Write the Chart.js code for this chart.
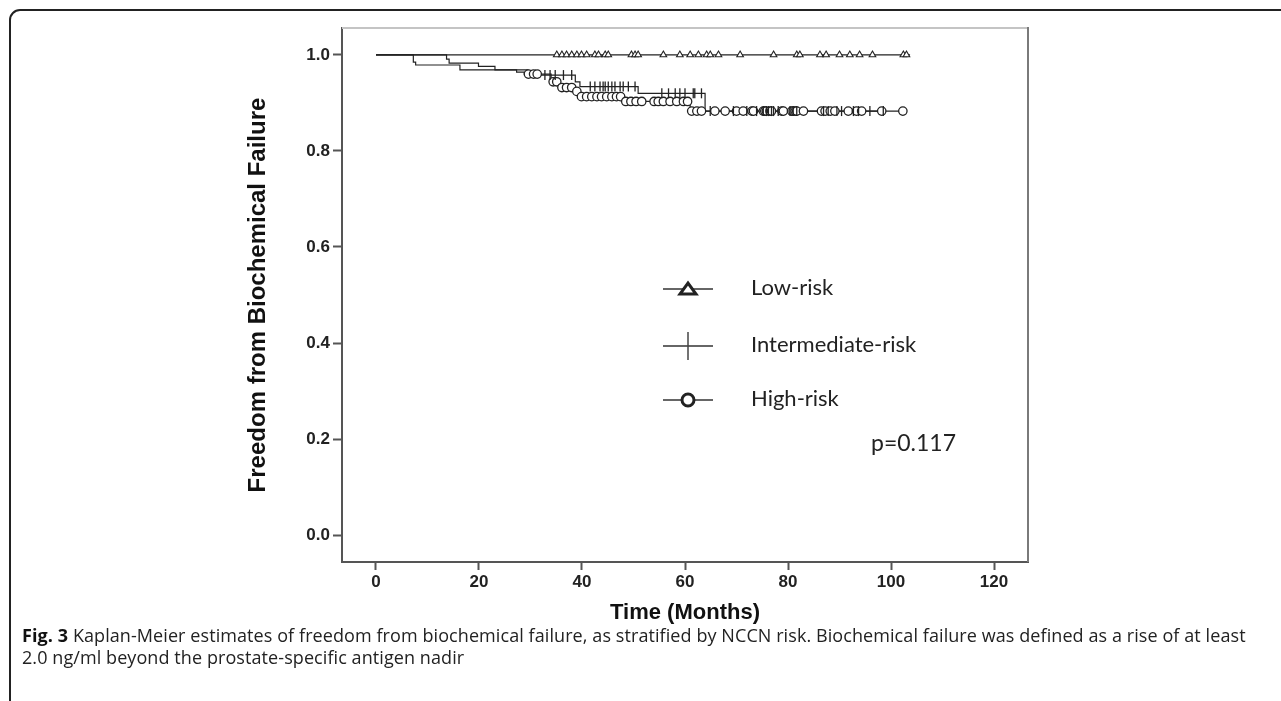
<!DOCTYPE html>
<html>
<head>
<meta charset="utf-8">
<script src="https://cdn.jsdelivr.net/npm/chart.js@4.4.0/dist/chart.umd.min.js"></script>
<style>
html, body { margin: 0; padding: 0; background: #fff; }
body { width: 1281px; height: 701px; position: relative; overflow: hidden; }
.frame { position: absolute; left: 9px; top: 9px; width: 1300px; height: 720px; border: 2px solid #222; border-radius: 11px; }
.chartbox { position: absolute; left: 0; top: 0; width: 1281px; height: 626px; }
.caption { position: absolute; left: 22px; top: 624px; white-space: nowrap; font-family: "Open Sans", sans-serif; font-size: 18px; letter-spacing: 0.08px; line-height: 22px; color: #222; }
.caption b { color: #111; }
</style>
</head>
<body>
<div class="frame"></div>
<div class="chartbox"><canvas id="kmchart" width="1281" height="626"></canvas></div>
<div class="caption"><b>Fig. 3</b> Kaplan-Meier estimates of freedom from biochemical failure, as stratified by NCCN risk. Biochemical failure was defined as a rise of at least<br>2.0 ng/ml beyond the prostate-specific antigen nadir</div>
<script>
// axis ticks
const xTicks = [0, 20, 40, 60, 80, 100, 120];
const yTicks = [0, 0.2, 0.4, 0.6, 0.8, 1.0];

// KM steps: time of each drop and survival after it
const lowTime = [0, 103.7];
const lowSurv = [1, 1];
const lowCensor = [35.1, 36.1, 37.0, 38.0, 39.0, 39.9, 40.9, 42.5, 43.2, 44.5, 45.1, 49.6, 50.3, 50.9,
  55.8, 59.0, 61.0, 62.6, 64.2, 64.9, 66.5, 70.7, 77.2, 81.7, 82.3, 86.2, 87.4, 90.0, 92.0, 93.9, 96.4, 102.4, 103.0];

const intTime = [0, 13.7, 14.2, 19.9, 23.1, 29.5, 38.7, 39.6, 50.9, 63.9, 98.5];
const intSurv = [1, 0.991, 0.983, 0.976, 0.969, 0.958, 0.944, 0.934, 0.920, 0.883, 0.883];
const intCensor = [32.8, 33.8, 34.8, 36.4, 38.0,
  41.6, 42.5, 43.5, 44.1, 44.5, 45.1, 45.8, 46.4, 47.4, 48.0, 49.0, 50.3,
  55.5, 56.8, 58.1, 59.0, 60.0, 61.6, 61.9, 63.2,
  64.9, 69.4, 72.0, 73.9, 75.2, 75.8, 76.2, 76.8, 77.2, 78.1, 80.4, 81.0, 81.7, 86.9, 87.8, 89.5, 90.4, 92.7, 93.7, 95.9, 98.5];

const highTime = [0, 7.25, 7.7, 16.3, 27.3, 28.8, 34.0, 35.5, 38.6, 39.5, 48.0, 61.0, 102.3];
const highSurv = [1, 0.985, 0.979, 0.969, 0.964, 0.960, 0.944, 0.932, 0.924, 0.913, 0.903, 0.883, 0.883];
const highCensor = [29.6, 30.6, 31.3, 34.4, 35.1, 36.1, 37.0, 38.0, 39.0,
  39.9, 40.9, 41.9, 42.9, 43.8, 44.8, 45.8, 46.7, 47.5,
  48.5, 49.5, 50.5, 51.6, 54.0, 54.8, 55.8, 57.1, 58.4, 59.7, 60.5,
  61.3, 62.3, 63.2, 65.8, 67.8, 70.0, 71.3, 73.0, 73.3, 75.2, 75.5, 75.8, 76.5, 76.8, 78.8, 79.1,
  80.7, 81.0, 81.4, 81.7, 83.0, 86.5, 87.2, 88.2, 89.1, 91.7, 93.3, 94.3, 98.2, 102.3];

const legendLabels = ["Low-risk", "Intermediate-risk", "High-risk"];
const pText = "p=0.117";

function stepPoints(times, surv) {
  return times.map((t, i) => ({x: t, y: surv[i]}));
}
// censor marks sit on the curve: look up the survival at that time
function censorPoints(cens, times, surv) {
  return cens.map(t => {
    let s = surv[0];
    for (let i = 0; i < times.length; i++) { if (times[i] <= t) s = surv[i]; }
    return {x: t, y: s};
  });
}

const ink = "#222";
const tickFont = {family: "'Liberation Sans', Arial", size: 17, weight: "bold"};

function lineSet(times, surv) {
  return {type: "line", data: stepPoints(times, surv), stepped: true, borderColor: ink, borderWidth: 1.2,
    pointRadius: 0, fill: false, order: 1};
}

const framePlugin = {
  id: "frame",
  beforeDatasetsDraw(chart) {
    const {ctx, chartArea: a} = chart;
    ctx.save();
    ctx.lineWidth = 2;
    ctx.strokeStyle = "#c4c4c4";
    ctx.beginPath(); ctx.moveTo(a.left, a.top); ctx.lineTo(a.right, a.top); ctx.stroke();
    ctx.strokeStyle = "#7a7a7a";
    ctx.beginPath(); ctx.moveTo(a.right, a.top - 1); ctx.lineTo(a.right, a.bottom); ctx.stroke();
    ctx.restore();
  },
  afterDraw(chart) {
    const ctx = chart.ctx;
    ctx.save();
    // legend rows
    const rows = [289, 346, 400];
    const cx = 688;
    rows.forEach(y => {
      ctx.lineWidth = 1.3;
      ctx.strokeStyle = "#333";
      ctx.beginPath(); ctx.moveTo(663, y); ctx.lineTo(713, y); ctx.stroke();
    });
    // triangle
    ctx.lineWidth = 3; ctx.strokeStyle = ink; ctx.fillStyle = "#fff";
    ctx.beginPath(); ctx.moveTo(cx - 8, rows[0] + 5); ctx.lineTo(cx + 8, rows[0] + 5); ctx.lineTo(cx, rows[0] - 6); ctx.closePath();
    ctx.fill(); ctx.stroke();
    // cross
    ctx.lineWidth = 1.5; ctx.strokeStyle = "#444";
    ctx.beginPath(); ctx.moveTo(cx, rows[1] - 14); ctx.lineTo(cx, rows[1] + 14); ctx.stroke();
    // circle
    ctx.lineWidth = 3; ctx.strokeStyle = ink;
    ctx.beginPath(); ctx.arc(cx, rows[2], 6, 0, Math.PI * 2); ctx.fill(); ctx.stroke();

    ctx.fillStyle = ink;
    ctx.font = "22px Lato";
    ctx.textBaseline = "middle";
    legendLabels.forEach((lab, i) => ctx.fillText(lab, 751, rows[i] - 1));
    ctx.font = "23px Lato";
    ctx.fillText(pText, 871, 444);
    ctx.restore();
  }
};

new Chart(document.getElementById("kmchart"), {
  type: "scatter",
  data: {
    datasets: [
      lineSet(lowTime, lowSurv),
      lineSet(intTime, intSurv),
      lineSet(highTime, highSurv),
      {data: censorPoints(lowCensor, lowTime, lowSurv), pointStyle: "triangle", pointRadius: 3.8,
        borderColor: ink, backgroundColor: "#fff", borderWidth: 1.1, order: 0},
      {data: censorPoints(intCensor, intTime, intSurv), pointStyle: "line", rotation: 90, pointRadius: 5,
        borderColor: ink, borderWidth: 1.3, order: 0},
      {data: censorPoints(highCensor, highTime, highSurv), pointStyle: "circle", pointRadius: 4.2,
        borderColor: ink, backgroundColor: "#fff", borderWidth: 1.3, order: 0}
    ]
  },
  options: {
    responsive: false,
    animation: false,
    layout: {padding: {left: 244, right: 253, top: 28, bottom: 0}},
    plugins: {legend: {display: false}, tooltip: {enabled: false}},
    scales: {
      x: {
        type: "linear", min: -6.6, max: 126.6,
        afterBuildTicks: s => { s.ticks = xTicks.map(v => ({value: v})); },
        afterFit: s => { s.height = 64; },
        ticks: {font: tickFont, color: ink, padding: 2, maxRotation: 0, autoSkip: false},
        grid: {drawOnChartArea: false, drawTicks: true, tickLength: 8, tickColor: "#555", tickWidth: 2},
        border: {color: "#555", width: 2},
        title: {display: true, text: "Time (Months)", font: {family: "'Liberation Sans', Arial", size: 22, weight: "bold"},
          color: "#111", padding: {top: 0, bottom: 0}}
      },
      y: {
        type: "linear", min: -0.056, max: 1.056,
        afterBuildTicks: s => { s.ticks = yTicks.map(v => ({value: v})); },
        afterFit: s => { s.width = 98; },
        ticks: {font: tickFont, color: ink, padding: 3, callback: v => v.toFixed(1)},
        grid: {drawOnChartArea: false, drawTicks: true, tickLength: 9, tickColor: "#555", tickWidth: 2},
        border: {color: "#555", width: 2},
        title: {display: true, text: "Freedom from Biochemical Failure", font: {family: "'Liberation Sans', Arial", size: 24, weight: "bold"},
          color: "#111", padding: {top: 0, bottom: 0}}
      }
    }
  },
  plugins: [framePlugin]
});
</script>
</body>
</html>
